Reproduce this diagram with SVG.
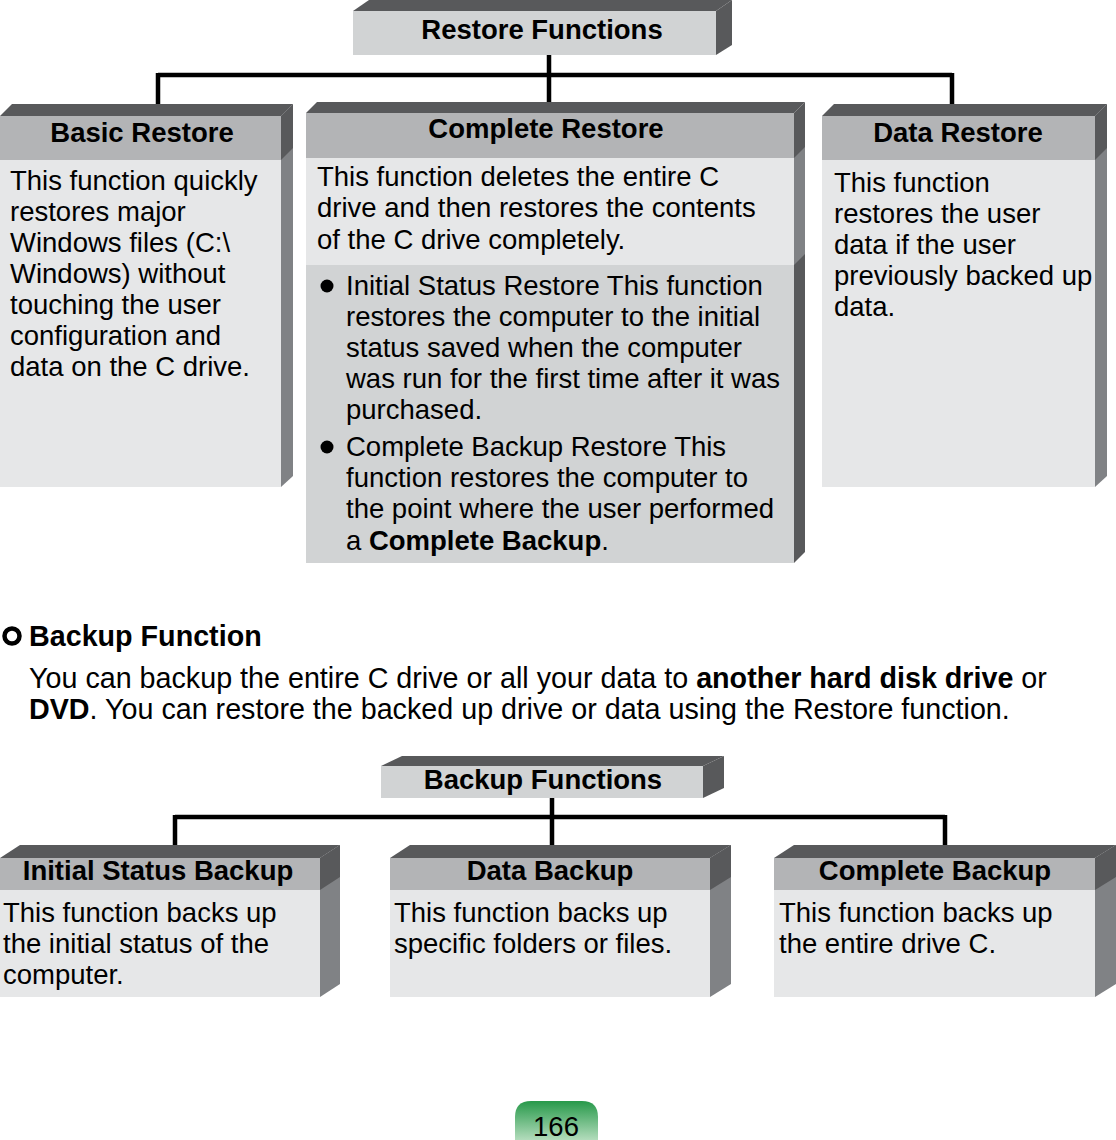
<svg xmlns="http://www.w3.org/2000/svg" width="1116" height="1140" viewBox="0 0 1116 1140">
<style>
.top{fill:#58595b}
.sdk{fill:#58595b}
.smd{fill:#808285}
.hdr{fill:#b3b4b6}
.body{fill:#e6e7e8}
.body2{fill:#d1d3d4}
.ttl{fill:#d1d3d4}
.h{font-family:"Liberation Sans",Arial,sans-serif;font-weight:bold;font-size:27.5px;fill:#000;text-anchor:middle}
.t{font-family:"Liberation Sans",Arial,sans-serif;font-size:27.5px;fill:#000}
.p{font-size:28.7px}
.b{font-weight:bold}
.conn{stroke:#000;stroke-width:4.5;fill:none}
</style>
<defs>
<linearGradient id="pg" x1="0" y1="0" x2="0" y2="1">
<stop offset="0" stop-color="#27994a"/>
<stop offset="1" stop-color="#b3dcbc"/>
</linearGradient>
</defs>
<rect width="1116" height="1140" fill="#fff"/>

<g id="connectors">
<path class="conn" d="M549,55 V104 M158,75 H952 M158,73 V105 M952,73 V105"/>
<path class="conn" d="M552,798 V846 M175,817 H945 M175,815 V846 M945,815 V846"/>
</g>

<g id="restore-functions">
<polygon class="top" points="353,11 369,0 732,0 716,11"/>
<polygon class="sdk" points="716,11 732,0 732,45 716,55"/>
<rect class="ttl" x="353" y="11" width="363" height="44"/>
<text class="h" x="542" y="39">Restore Functions</text>
</g>

<g id="basic-restore">
<polygon class="top" points="0,116 12,104 293,104 281,116"/>
<polygon class="smd" points="281,116 293,104 293,476 281,487"/>
<polygon class="sdk" points="281,116 293,104 293,148 281,160"/>
<rect class="hdr" x="0" y="116" width="281" height="44"/>
<rect class="body" x="0" y="160" width="281" height="327"/>
<text class="h" x="142" y="142">Basic Restore</text>
<text class="t" x="10" y="190">This function quickly</text>
<text class="t" x="10" y="221">restores major</text>
<text class="t" x="10" y="252">Windows files (C:\</text>
<text class="t" x="10" y="283">Windows) without</text>
<text class="t" x="10" y="314">touching the user</text>
<text class="t" x="10" y="345">configuration and</text>
<text class="t" x="10" y="376">data on the C drive.</text>
</g>

<g id="complete-restore">
<polygon class="top" points="306,113 317,102 805,102 794,113"/>
<polygon class="sdk" points="794,113 805,102 805,552 794,563"/>
<polygon class="smd" points="794,158 805,147 805,254 794,265"/>
<rect class="hdr" x="306" y="113" width="488" height="45"/>
<rect class="body" x="306" y="158" width="488" height="107"/>
<rect class="body2" x="306" y="265" width="488" height="298"/>
<text class="h" x="546" y="138">Complete Restore</text>
<text class="t" x="317" y="186">This function deletes the entire C</text>
<text class="t" x="317" y="217">drive and then restores the contents</text>
<text class="t" x="317" y="249">of the C drive completely.</text>
<circle cx="327" cy="286" r="6.5"/>
<text class="t" x="346" y="295">Initial Status Restore This function</text>
<text class="t" x="346" y="326">restores the computer to the initial</text>
<text class="t" x="346" y="357">status saved when the computer</text>
<text class="t" x="346" y="388">was run for the first time after it was</text>
<text class="t" x="346" y="419">purchased.</text>
<circle cx="327" cy="447" r="6.5"/>
<text class="t" x="346" y="456">Complete Backup Restore This</text>
<text class="t" x="346" y="487">function restores the computer to</text>
<text class="t" x="346" y="518">the point where the user performed</text>
<text class="t" x="346" y="550">a <tspan class="b">Complete Backup</tspan>.</text>
</g>

<g id="data-restore">
<polygon class="top" points="822,116 834,104 1107,104 1095,116"/>
<polygon class="smd" points="1095,116 1107,104 1107,476 1095,487"/>
<polygon class="sdk" points="1095,116 1107,104 1107,148 1095,160"/>
<rect class="hdr" x="822" y="116" width="273" height="44"/>
<rect class="body" x="822" y="160" width="273" height="327"/>
<text class="h" x="958" y="142">Data Restore</text>
<text class="t" x="834" y="192">This function</text>
<text class="t" x="834" y="223">restores the user</text>
<text class="t" x="834" y="254">data if the user</text>
<text class="t" x="834" y="285">previously backed up</text>
<text class="t" x="834" y="316">data.</text>
</g>

<g id="backup-heading">
<circle cx="12" cy="636" r="7.5" fill="none" stroke="#000" stroke-width="4.5"/>
<text class="t p b" x="29" y="646">Backup Function</text>
<text class="t p" x="29" y="688">You can backup the entire C drive or all your data to <tspan class="b">another hard disk drive</tspan> or</text>
<text class="t p" x="29" y="719"><tspan class="b">DVD</tspan>. You can restore the backed up drive or data using the Restore function.</text>
</g>

<g id="backup-functions">
<polygon class="top" points="381,766 402,756 724,756 703,766"/>
<polygon class="sdk" points="703,766 724,756 724,788 703,798"/>
<rect class="ttl" x="381" y="766" width="322" height="32"/>
<text class="h" x="543" y="789">Backup Functions</text>
</g>

<g id="initial-status-backup">
<polygon class="top" points="0,858 20,845 340,845 320,858"/>
<polygon class="smd" points="320,858 340,845 340,984 320,997"/>
<polygon class="sdk" points="320,858 340,845 340,877 320,890"/>
<rect class="hdr" x="0" y="858" width="320" height="32"/>
<rect class="body" x="0" y="890" width="320" height="107"/>
<text class="h" x="158" y="880">Initial Status Backup</text>
<text class="t" x="3" y="922">This function backs up</text>
<text class="t" x="3" y="953">the initial status of the</text>
<text class="t" x="3" y="984">computer.</text>
</g>

<g id="data-backup">
<polygon class="top" points="390,858 410,845 731,845 710,858"/>
<polygon class="smd" points="710,858 731,845 731,984 710,997"/>
<polygon class="sdk" points="710,858 731,845 731,877 710,890"/>
<rect class="hdr" x="390" y="858" width="320" height="32"/>
<rect class="body" x="390" y="890" width="320" height="107"/>
<text class="h" x="550" y="880">Data Backup</text>
<text class="t" x="394" y="922">This function backs up</text>
<text class="t" x="394" y="953">specific folders or files.</text>
</g>

<g id="complete-backup">
<polygon class="top" points="774,858 794,845 1116,845 1095,858"/>
<polygon class="smd" points="1095,858 1116,845 1116,984 1095,997"/>
<polygon class="sdk" points="1095,858 1116,845 1116,877 1095,890"/>
<rect class="hdr" x="774" y="858" width="321" height="32"/>
<rect class="body" x="774" y="890" width="321" height="107"/>
<text class="h" x="935" y="880">Complete Backup</text>
<text class="t" x="779" y="922">This function backs up</text>
<text class="t" x="779" y="953">the entire drive C.</text>
</g>

<g id="page-number">
<path d="M515,1140 V1117 Q515,1101 531,1101 H582 Q598,1101 598,1117 V1140 Z" fill="url(#pg)"/>
<text class="t" x="556" y="1136" text-anchor="middle" font-size="25">166</text>
</g>
</svg>
